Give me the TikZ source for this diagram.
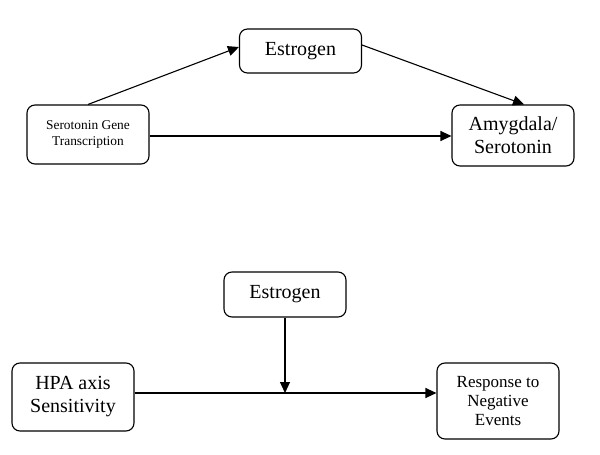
\documentclass[tikz,border=0pt]{standalone}
\usepackage{fontspec}
\setmainfont{Liberation Serif}
\usetikzlibrary{positioning,arrows.meta,calc}

\begin{document}
\begin{tikzpicture}[x=1pt,y=1pt,on grid,
    box/.style={draw,rounded corners=8pt,line width=1.1pt,align=center,minimum width=122pt,inner sep=2pt},
    bigtext/.style={font=\fontsize{20}{23}\selectfont},
    medtext/.style={font=\fontsize{17}{19}\selectfont},
    smalltext/.style={font=\fontsize{13.4}{16}\selectfont},
    arr/.style={-{Triangle[length=11pt,width=10pt]},line width=1.1pt}]
    \useasboundingbox (0,0) rectangle (600,-455);
    % upper model
    \node[box,smalltext,minimum height=59pt] (sgt) at (88,-134.5) {Serotonin Gene\\Transcription};
    \node[box,bigtext,minimum height=44pt,above right=83.5pt and 212.5pt of sgt] (estA) {Estrogen};
    \node[box,bigtext,minimum height=61pt,right=425pt of sgt,yshift=-1pt] (amyg) {Amygdala/\\Serotonin};
    \draw[arr] (sgt.north) -- ([yshift=4pt]estA.west);
    \draw[arr] ([yshift=6pt]estA.east) -- ([xshift=11pt]amyg.north);
    \draw[arr] ([yshift=-1.5pt]sgt.east) -- ([yshift=-1.5pt]sgt.east -| amyg.west);
    % lower model
    \node[box,bigtext,minimum height=68pt] (hpa) at (73,-397) {HPA axis\\Sensitivity};
    \node[box,bigtext,minimum height=45pt,above right=102.5pt and 212pt of hpa] (estB) {Estrogen};
    \node[box,medtext,minimum height=76pt,right=425pt of hpa,yshift=-4pt] (resp) {Response to\\Negative\\Events};
    \coordinate (jn) at ($(estB.south |- hpa.east)+(0,4)$);
    \draw[arr] ([yshift=4pt]hpa.east) -- ([yshift=4pt]hpa.east -| resp.west);
    \draw[arr] (estB.south) -- (jn);
\end{tikzpicture}
\end{document}
